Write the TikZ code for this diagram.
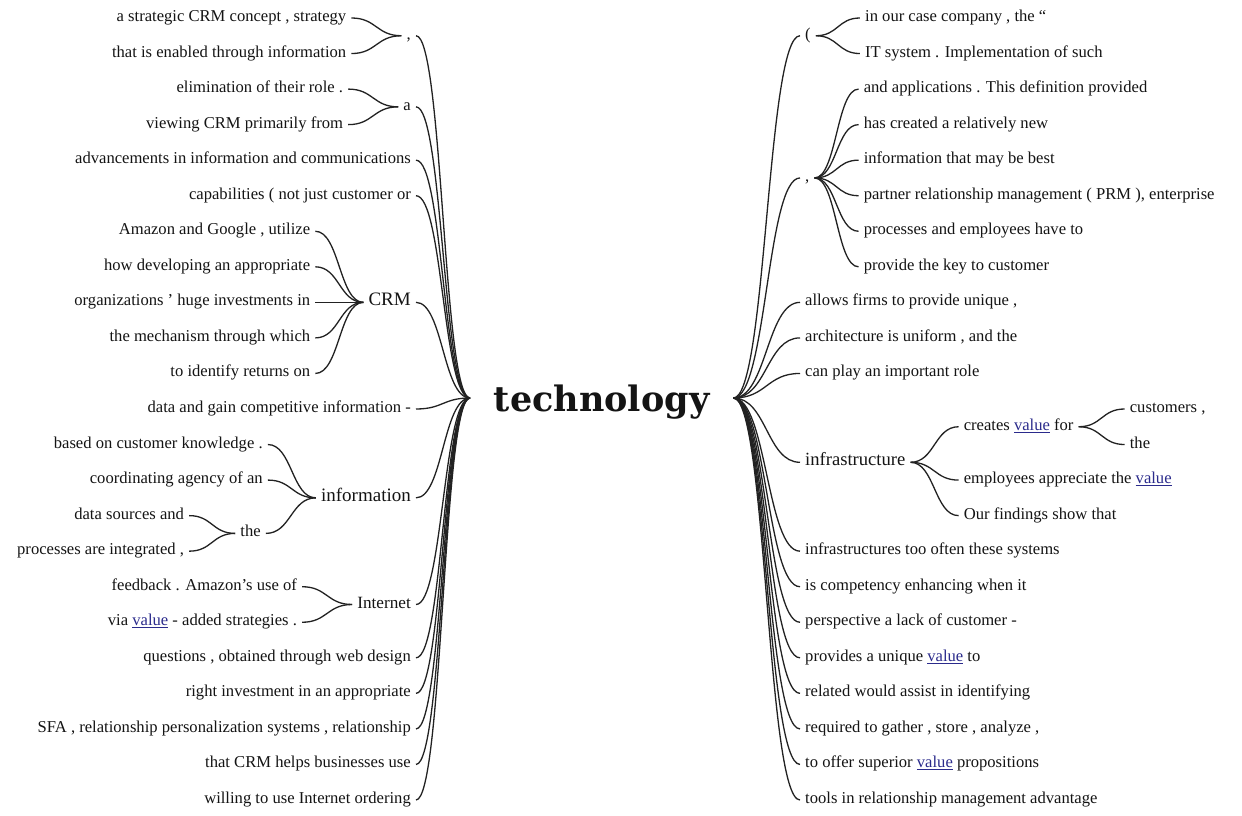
\documentclass[tikz,border=0pt]{standalone}
\usepackage{fontspec}
\setmainfont{Liberation Serif}
\newfontfamily\rootfont{DejaVu Serif}
\usetikzlibrary{calc}
\definecolor{txt}{HTML}{141414}
\definecolor{ln}{HTML}{222222}
\definecolor{lnk}{HTML}{2B2B8C}
\newcommand{\vlink}[1]{\textcolor{lnk}{\underline{#1}}}
\begin{document}
\begin{tikzpicture}[x=1pt,y=1pt,
  every node/.style={inner xsep=5pt, inner ysep=0pt, text height=11pt, text depth=4pt, text=txt, font=\fontsize{16.6}{18}\selectfont},
  big/.style={font=\fontsize{19}{21}\selectfont},
  mid/.style={font=\fontsize{18.6}{21}\selectfont},
  sml/.style={font=\fontsize{17.2}{20}\selectfont},
  L/.style={anchor=east},
  R/.style={anchor=west},
  wl/.style={draw=ln, line width=1.3pt, to path={let \p1=(\tikztostart), \p2=(\tikztotarget), \n1={0.5*(\x2-\x1)} in .. controls +(\n1,0pt) and +(-\n1,0pt) .. (\tikztotarget)}}
]
\fill[white] (0,0) rectangle (1242,815);
\useasboundingbox (0,0) rectangle (1242,815);
\foreach \i in {0,...,22} { \coordinate (r\i) at (0,{797-35.545*\i}); }

% root
\node[inner sep=0pt, minimum width=263pt, text height=28pt, text depth=0pt, anchor=west,
      font=\rootfont\bfseries\fontsize{35}{38}\selectfont] (root) at (470,417) {technology};

% ---------------- left side ----------------
\node[L] (lcm) at (416,779.25) {,};
\node[L] (l0) at ($(lcm.west|-r0)+(-50,0)$) {a strategic CRM concept , strategy};
\node[L] (l1) at ($(lcm.west|-r1)+(-50,0)$) {that is enabled through information};
\node[L] (la) at (416,708.15) {a};
\node[L] (l2) at ($(la.west|-r2)+(-50,0)$) {elimination of their role .};
\node[L] (l3) at ($(la.west|-r3)+(-50,0)$) {viewing CRM primarily from};
\node[L] (l4) at ($(r4)+(416,0)$) {advancements in information and communications};
\node[L] (l5) at ($(r5)+(416,0)$) {capabilities ( not just customer or};
\node[L,big] (lcrm) at ($(r8)+(416,0)$) {CRM};
\node[L] (l6) at ($(lcrm.west|-r6)+(-48,0)$) {Amazon and Google , utilize};
\node[L] (l7) at ($(lcrm.west|-r7)+(-48,0)$) {how developing an appropriate};
\node[L] (l8) at ($(lcrm.west|-r8)+(-48,0)$) {organizations ' huge investments in};
\node[L] (l9) at ($(lcrm.west|-r9)+(-48,0)$) {the mechanism through which};
\node[L] (l10) at ($(lcrm.west|-r10)+(-48,0)$) {to identify returns on};
\node[L] (l11) at ($(r11)+(416,0)$) {data and gain competitive information -};
\node[L,big] (linf) at (416,317.15) {information};
\node[L] (l12) at ($(linf.west|-r12)+(-48,0)$) {based on customer knowledge .};
\node[L] (l13) at ($(linf.west|-r13)+(-48,0)$) {coordinating agency of an};
\node[L] (lthe) at ($(linf.west)+(-50,-35.55)$) {the};
\node[L] (l14) at ($(lthe.west|-r14)+(-46,0)$) {data sources and};
\node[L] (l15) at ($(lthe.west|-r15)+(-46,0)$) {processes are integrated ,};
\node[L,sml] (lint) at (416,210.5) {Internet};
\node[L] (l16) at ($(lint.west|-r16)+(-50,0)$) {feedback . Amazon’s use of};
\node[L] (l17) at ($(lint.west|-r17)+(-50,0)$) {via \vlink{value} - added strategies .};
\node[L] (l18) at ($(r18)+(416,0)$) {questions , obtained through web design};
\node[L] (l19) at ($(r19)+(416,0)$) {right investment in an appropriate};
\node[L] (l20) at ($(r20)+(416,0)$) {SFA , relationship personalization systems , relationship};
\node[L] (l21) at ($(r21)+(416,0)$) {that CRM helps businesses use};
\node[L] (l22) at ($(r22)+(416,0)$) {willing to use Internet ordering};

\foreach \ch/\pa in {l0/lcm, l1/lcm, l2/la, l3/la, l6/lcrm, l7/lcrm, l8/lcrm, l9/lcrm, l10/lcrm,
                   l12/linf, l13/linf, lthe/linf, l14/lthe, l15/lthe, l16/lint, l17/lint,
                   lcm/root, la/root, l4/root, l5/root, lcrm/root, l11/root, linf/root, lint/root,
                   l18/root, l19/root, l20/root, l21/root, l22/root}
  \draw[wl] (\ch.east) to (\pa.west);

% ---------------- right side ----------------
\node[R] (rpar) at (800,779.25) {(};
\node[R] (q0) at ($(rpar.east|-r0)+(44,0)$) {in our case company , the “};
\node[R] (q1) at ($(rpar.east|-r1)+(44,0)$) {IT system . Implementation of such};
\node[R] (rcm) at (800,637.05) {,};
\node[R] (q2) at ($(rcm.east|-r2)+(44,0)$) {and applications . This definition provided};
\node[R] (q3) at ($(rcm.east|-r3)+(44,0)$) {has created a relatively new};
\node[R] (q4) at ($(rcm.east|-r4)+(44,0)$) {information that may be best};
\node[R] (q5) at ($(rcm.east|-r5)+(44,0)$) {partner relationship management ( PRM ), enterprise};
\node[R] (q6) at ($(rcm.east|-r6)+(44,0)$) {processes and employees have to};
\node[R] (q7) at ($(rcm.east|-r7)+(44,0)$) {provide the key to customer};
\node[R] (q8) at ($(r8)+(800,0)$) {allows firms to provide unique ,};
\node[R] (q9) at ($(r9)+(800,0)$) {architecture is uniform , and the};
\node[R] (q10) at ($(r10)+(800,0)$) {can play an important role};
\node[R,mid] (rinf) at (800,352.7) {infrastructure};
\node[R] (rcv) at ($(rinf.east)+(48,35.55)$) {creates \vlink{value} for};
\node[R] (q11) at ($(rcv.east|-r11)+(46,0)$) {customers ,};
\node[R] (q12) at ($(rcv.east|-r12)+(46,0)$) {the};
\node[R] (q13) at ($(rinf.east|-r13)+(48,0)$) {employees appreciate the \vlink{value}};
\node[R] (q14) at ($(rinf.east|-r14)+(48,0)$) {Our findings show that};
\node[R] (q15) at ($(r15)+(800,0)$) {infrastructures too often these systems};
\node[R] (q16) at ($(r16)+(800,0)$) {is competency enhancing when it};
\node[R] (q17) at ($(r17)+(800,0)$) {perspective a lack of customer -};
\node[R] (q18) at ($(r18)+(800,0)$) {provides a unique \vlink{value} to};
\node[R] (q19) at ($(r19)+(800,0)$) {related would assist in identifying};
\node[R] (q20) at ($(r20)+(800,0)$) {required to gather , store , analyze ,};
\node[R] (q21) at ($(r21)+(800,0)$) {to offer superior \vlink{value} propositions};
\node[R] (q22) at ($(r22)+(800,0)$) {tools in relationship management advantage};

\foreach \pa/\ch in {rpar/q0, rpar/q1, rcm/q2, rcm/q3, rcm/q4, rcm/q5, rcm/q6, rcm/q7,
                   rinf/rcv, rcv/q11, rcv/q12, rinf/q13, rinf/q14,
                   root/rpar, root/rcm, root/q8, root/q9, root/q10, root/rinf,
                   root/q15, root/q16, root/q17, root/q18, root/q19, root/q20, root/q21, root/q22}
  \draw[wl] (\pa.east) to (\ch.west);
\end{tikzpicture}
\end{document}
